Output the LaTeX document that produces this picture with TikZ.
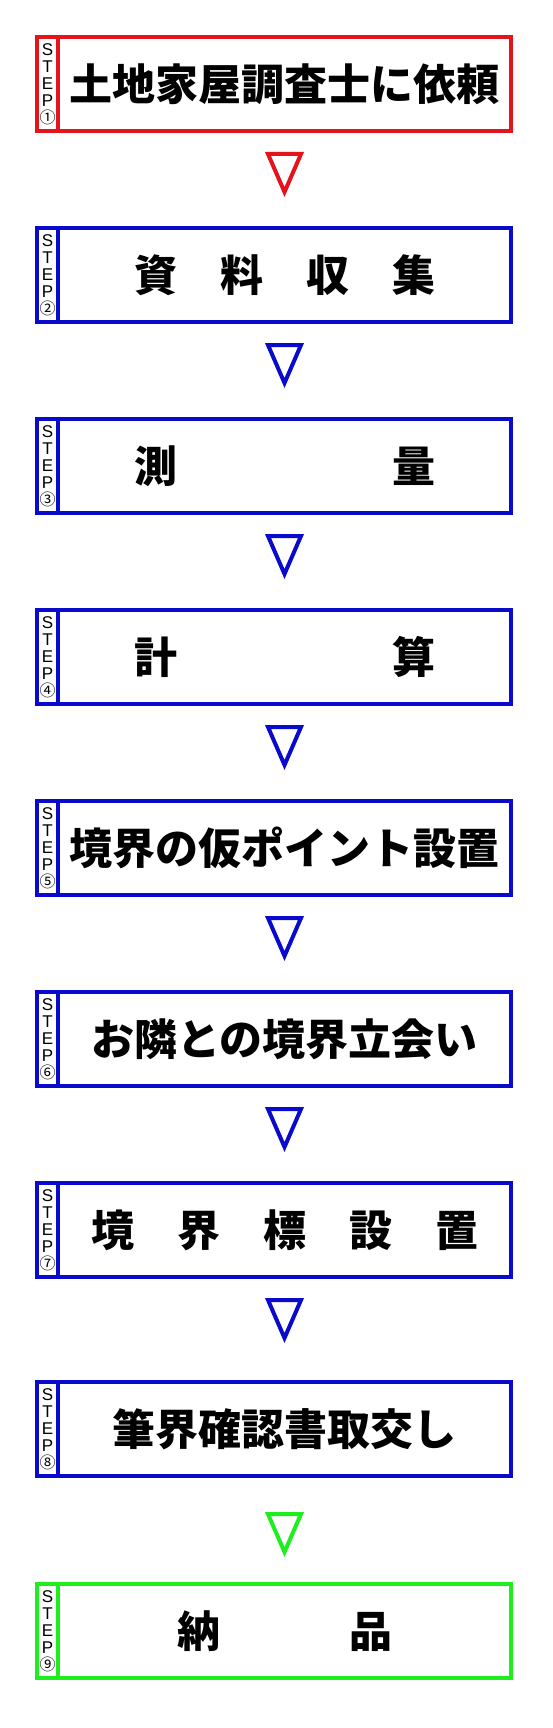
\documentclass[tikz,border=0pt]{standalone}
\usepackage{fontspec}
\setmainfont{Liberation Sans}
\newfontfamily\jpfont{Noto Sans CJK JP}
\usetikzlibrary{positioning,calc}
\definecolor{stepred}{HTML}{E3141C}
\definecolor{stepblue}{HTML}{0A0ACC}
\definecolor{stepgreen}{HTML}{1EEE1E}
\newcommand\stepno[1]{{\jpfont\fontsize{16}{16}\selectfont #1}}
\begin{document}
\begin{tikzpicture}[x=1pt,y=1pt,node distance=97pt,
  box/.style={draw=#1,line width=4pt,minimum width=453pt,minimum height=94pt,outer sep=0pt,inner sep=0pt,
    font=\jpfont\bfseries\fontsize{43}{50}\selectfont},
  tag/.style={draw=#1,line width=4pt,minimum width=21pt,minimum height=94pt,outer sep=0pt,inner sep=0pt,
    align=center,font=\fontsize{17}{17}\selectfont},
  tri/.style={draw=#1,line width=4pt}]
\useasboundingbox (0,0) rectangle (552,-1728);
% steps
\node[box=stepred] (s1) at (284.5,-84) {土地家屋調査士に依頼};
\node[box=stepblue,below=of s1] (s2) {資　料　収　集};
\node[box=stepblue,below=of s2] (s3) {測　　　　　量};
\node[box=stepblue,below=of s3] (s4) {計　　　　　算};
\node[box=stepblue,below=of s4] (s5) {境界の仮ポイント設置};
\node[box=stepblue,below=of s5] (s6) {お隣との境界立会い};
\node[box=stepblue,below=of s6] (s7) {境　界　標　設　置};
\node[box=stepblue,below=105pt of s7] (s8) {筆界確認書取交し};
\node[box=stepgreen,below=108pt of s8] (s9) {納　　　品};
% step tags
\node[tag=stepred,left=0pt of s1] (t1) {S\\T\\E\\P\\\stepno{①}};
\node[tag=stepblue,left=0pt of s2] (t2) {S\\T\\E\\P\\\stepno{②}};
\node[tag=stepblue,left=0pt of s3] (t3) {S\\T\\E\\P\\\stepno{③}};
\node[tag=stepblue,left=0pt of s4] (t4) {S\\T\\E\\P\\\stepno{④}};
\node[tag=stepblue,left=0pt of s5] (t5) {S\\T\\E\\P\\\stepno{⑤}};
\node[tag=stepblue,left=0pt of s6] (t6) {S\\T\\E\\P\\\stepno{⑥}};
\node[tag=stepblue,left=0pt of s7] (t7) {S\\T\\E\\P\\\stepno{⑦}};
\node[tag=stepblue,left=0pt of s8] (t8) {S\\T\\E\\P\\\stepno{⑧}};
\node[tag=stepgreen,left=0pt of s9] (t9) {S\\T\\E\\P\\\stepno{⑨}};
% down marks
\draw[tri=stepred] ($(s1.south)+(-16.5,-23)$) -- ++(33,0) -- ($(s1.south)+(0,-61)$) -- cycle;
\draw[tri=stepblue] ($(s2.south)+(-16.5,-23)$) -- ++(33,0) -- ($(s2.south)+(0,-61)$) -- cycle;
\draw[tri=stepblue] ($(s3.south)+(-16.5,-23)$) -- ++(33,0) -- ($(s3.south)+(0,-61)$) -- cycle;
\draw[tri=stepblue] ($(s4.south)+(-16.5,-23)$) -- ++(33,0) -- ($(s4.south)+(0,-61)$) -- cycle;
\draw[tri=stepblue] ($(s5.south)+(-16.5,-23)$) -- ++(33,0) -- ($(s5.south)+(0,-61)$) -- cycle;
\draw[tri=stepblue] ($(s6.south)+(-16.5,-23)$) -- ++(33,0) -- ($(s6.south)+(0,-61)$) -- cycle;
\draw[tri=stepblue] ($(s7.south)+(-16.5,-23)$) -- ++(33,0) -- ($(s7.south)+(0,-61)$) -- cycle;
\draw[tri=stepgreen] ($(s8.south)+(-16.5,-38)$) -- ++(33,0) -- ($(s8.south)+(0,-76)$) -- cycle;
\end{tikzpicture}
\end{document}
